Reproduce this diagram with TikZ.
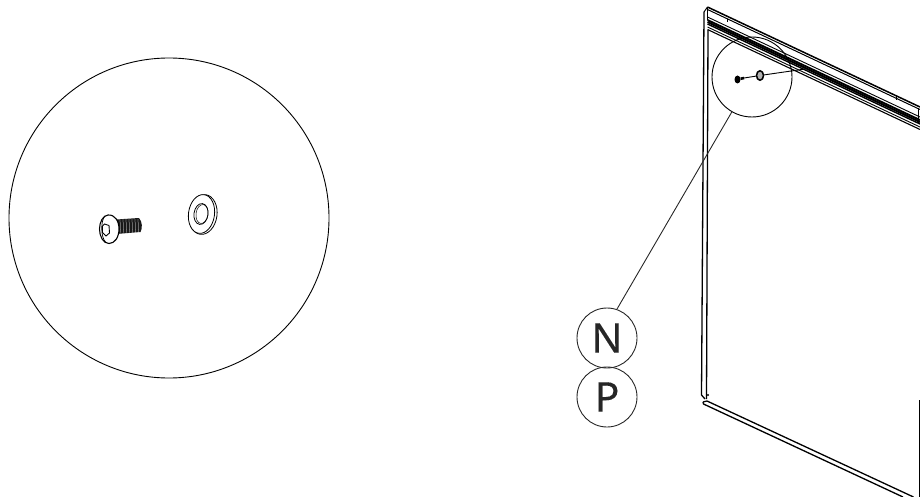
\documentclass[tikz,border=0pt]{standalone}
\usepackage{fontspec}
\setmainfont[FakeBold=0.2]{Noto Sans}
\usetikzlibrary{shapes.geometric}
\tikzset{
  callout/.style={circle,draw=black!85,line width=0.9pt,minimum size=60pt,inner sep=0pt,
    text=black!85,font=\fontsize{41}{41}\selectfont},
  detail/.style={circle,draw=black,line width=0.9pt,inner sep=0pt},
  leader/.style={draw=black!85,line width=0.9pt},
  frameline/.style={draw=black,line width=1.3pt},
  part/.style={draw=black,line width=0.8pt,fill=white}
}
\begin{document}
\begin{tikzpicture}[x=1pt,y=-1pt]
\useasboundingbox (0,0) rectangle (920,497);
% zoomed circle
\node[detail,minimum size=320pt] (bigdetail) at (169,218) {};
% washer
\draw[part] (203,214.5) ellipse[x radius=14,y radius=20,rotate=-8];
\draw[part] (201.5,214) ellipse[x radius=13,y radius=19.5,rotate=-8];
\draw[part] (201,214) ellipse[x radius=7,y radius=10.5,rotate=-8];
\draw[draw=black,line width=0.5pt] (202,214) ellipse[x radius=6,y radius=9.5,rotate=-8];
% screw shank, threads by loop
\fill[black!90] (116,219.5) -- (139,218) .. controls (142.5,222) and (142.5,228) .. (140.5,232) -- (116,234) -- cycle;
\foreach \tx in {120,123,...,138}
  \draw[white,line width=0.25pt] (\tx,219) -- (\tx+0.5,232.5);
% screw head
\draw[part,line width=1.1pt] (108,215) .. controls (115,214.5) and (119,221) .. (119,229)
  .. controls (119,237) and (115,243.5) .. (109,243.5) .. controls (103,243.5) and (99.5,236) .. (99.5,229)
  .. controls (99.5,222) and (103,215.5) .. (108,215) -- cycle;
\draw[line width=0.7pt] (105,216) .. controls (100.5,220) and (100.5,238) .. (106,242.5);
\draw[line width=0.9pt] (104.5,224) -- (109,225.5) -- (109.5,233) -- (106,236) -- (102.5,232.5) -- (102.5,226) -- cycle;
% panel top rail
\foreach \yoff/\wd in {0/1.5,2.5/1,10/0.9,13/1.8,15/2,17/1.4,20/0.9,22.5/1.1}
  \draw[line width=\wd pt] (707.5,7+\yoff) -- (920,107+\yoff);
\draw[line width=1pt] (704,12) -- (707.5,7);
\draw[line width=0.8pt] (707.5,7) -- (707.5,20);
\draw[line width=1pt] (918.5,108) -- (918.5,123);
\draw[line width=1pt] (727,19) -- (727,22);
\draw[line width=1pt] (896,96) -- (896,100);
% panel sides
\draw[frameline] (704,12) -- (701.5,395) -- (705,399);
\draw[frameline] (708,30) -- (706.5,399);
\fill (708,395) circle (1.1);
\draw[frameline] (703,402) -- (707,401) -- (913.5,497);
\draw[frameline] (703,402) -- (703.5,404) -- (903,497);
\draw[draw=black,line width=1.1pt] (919.5,400) -- (919.5,497);
% callouts
\node[callout] (calln) at (607,338) {N};
\node[callout] (callp) at (607,397) {P};
\node[detail,minimum size=80pt] (smalldetail) at (752,77) {};
\draw[leader] (calln.71) -- (smalldetail.240);
% small screw and washer
\node[ellipse,draw=black,fill=black!30,minimum width=7pt,minimum height=9.5pt,inner sep=0pt,line width=1.5pt] (smallwasher) at (760,75.5) {};
\node[ellipse,fill=black,minimum width=6pt,minimum height=8pt,inner sep=0pt] (smallscrew) at (737.5,79.5) {};
\coordinate (railpoint) at (805,69);
\draw[line width=2.6pt] (smallscrew) -- (744,78);
\draw[line width=0.9pt] (744,78) -- (smallwasher);
\draw[line width=0.9pt] (smallwasher) -- (railpoint);
\end{tikzpicture}
\end{document}
